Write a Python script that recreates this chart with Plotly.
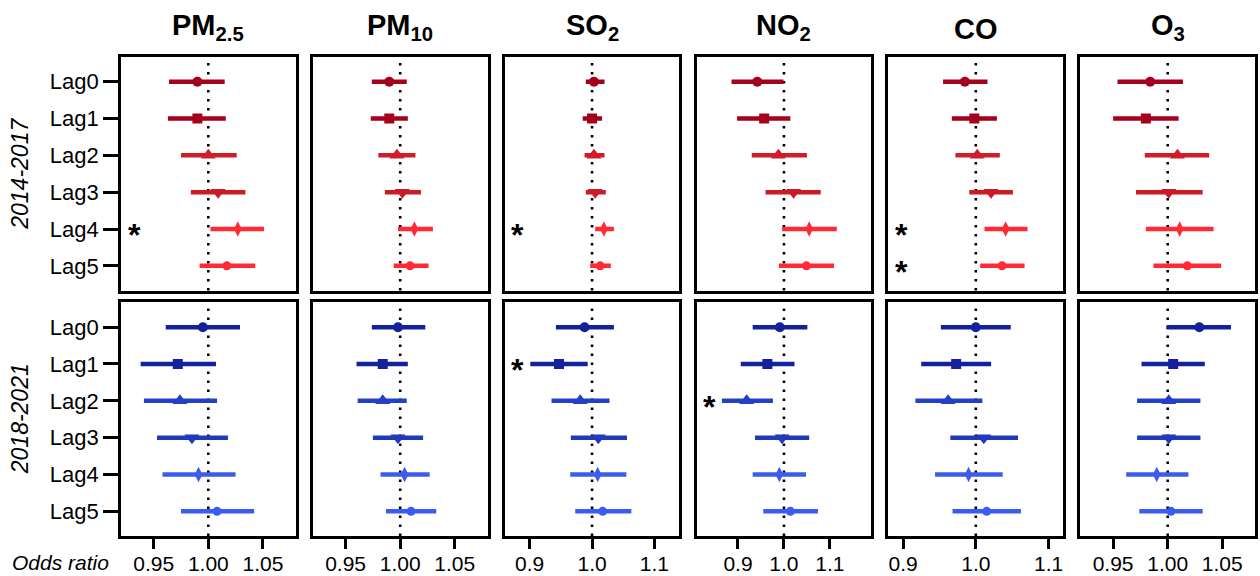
import plotly.graph_objects as go
from plotly.subplots import make_subplots

# ---------------- data ----------------
lags = ["Lag0", "Lag1", "Lag2", "Lag3", "Lag4", "Lag5"]
pollutants = ["PM<sub>2.5</sub>", "PM<sub>10</sub>", "SO<sub>2</sub>", "NO<sub>2</sub>", "CO", "O<sub>3</sub>"]
periods = ["2014-2017", "2018-2021"]

# 2014-2017 (odds ratio, lower CI, upper CI)
pm25_a_or = [0.990, 0.990, 1.000, 1.009, 1.027, 1.017]
pm25_a_lo = [0.964, 0.963, 0.975, 0.984, 1.002, 0.992]
pm25_a_hi = [1.015, 1.016, 1.026, 1.034, 1.051, 1.043]
pm10_a_or = [0.990, 0.990, 0.997, 1.002, 1.013, 1.009]
pm10_a_lo = [0.974, 0.973, 0.980, 0.986, 0.998, 0.994]
pm10_a_hi = [1.006, 1.007, 1.014, 1.019, 1.030, 1.026]
so2_a_or = [1.003, 1.000, 1.003, 1.005, 1.019, 1.013]
so2_a_lo = [0.990, 0.985, 0.988, 0.990, 1.005, 0.997]
so2_a_hi = [1.020, 1.016, 1.020, 1.022, 1.035, 1.030]
no2_a_or = [0.942, 0.957, 0.988, 1.021, 1.055, 1.049]
no2_a_lo = [0.886, 0.898, 0.930, 0.960, 0.996, 0.989]
no2_a_hi = [0.999, 1.014, 1.050, 1.080, 1.115, 1.109]
co_a_or = [0.985, 0.998, 1.002, 1.021, 1.041, 1.036]
co_a_lo = [0.955, 0.967, 0.972, 0.991, 1.012, 1.006]
co_a_hi = [1.016, 1.029, 1.033, 1.051, 1.071, 1.067]
o3_a_or = [0.984, 0.980, 1.009, 1.001, 1.011, 1.018]
o3_a_lo = [0.954, 0.950, 0.979, 0.971, 0.980, 0.987]
o3_a_hi = [1.014, 1.010, 1.038, 1.032, 1.042, 1.049]

# 2018-2021
pm25_b_or = [0.995, 0.972, 0.974, 0.985, 0.991, 1.008]
pm25_b_lo = [0.961, 0.938, 0.941, 0.953, 0.958, 0.975]
pm25_b_hi = [1.029, 1.007, 1.008, 1.018, 1.025, 1.042]
pm10_b_or = [0.998, 0.984, 0.984, 0.998, 1.004, 1.010]
pm10_b_lo = [0.974, 0.960, 0.961, 0.975, 0.982, 0.987]
pm10_b_hi = [1.023, 1.007, 1.006, 1.021, 1.027, 1.033]
so2_b_or = [0.988, 0.947, 0.981, 1.010, 1.009, 1.017]
so2_b_lo = [0.942, 0.901, 0.935, 0.966, 0.965, 0.973]
so2_b_hi = [1.035, 0.993, 1.028, 1.056, 1.055, 1.063]
no2_b_or = [0.991, 0.964, 0.919, 0.996, 0.990, 1.014]
no2_b_lo = [0.932, 0.906, 0.865, 0.937, 0.932, 0.955]
no2_b_hi = [1.051, 1.023, 0.976, 1.055, 1.048, 1.074]
co_b_or = [1.000, 0.973, 0.962, 1.011, 0.990, 1.015]
co_b_lo = [0.952, 0.925, 0.917, 0.965, 0.944, 0.968]
co_b_hi = [1.048, 1.021, 1.009, 1.058, 1.037, 1.062]
o3_b_or = [1.029, 1.005, 1.001, 1.001, 0.990, 1.003]
o3_b_lo = [0.999, 0.976, 0.972, 0.972, 0.962, 0.974]
o3_b_hi = [1.058, 1.034, 1.030, 1.030, 1.019, 1.032]

# significant lags (asterisks)
sig_a = [[4], [], [4], [], [4, 5], []]
sig_b = [[], [], [1], [2], [], []]

# axis settings per pollutant
x_ranges = [[0.92, 1.08], [0.92, 1.08], [0.86, 1.14], [0.81, 1.19], [0.88, 1.12], [0.92, 1.08]]
x_ticks = [[0.95, 1.00, 1.05], [0.95, 1.00, 1.05], [0.9, 1.0, 1.1], [0.9, 1.0, 1.1], [0.9, 1.0, 1.1], [0.95, 1.00, 1.05]]
x_tickfmt = [".2f", ".2f", ".1f", ".1f", ".1f", ".2f"]
ref_or = 1.0

rows_data = [
    [(pm25_a_or, pm25_a_lo, pm25_a_hi), (pm10_a_or, pm10_a_lo, pm10_a_hi), (so2_a_or, so2_a_lo, so2_a_hi),
     (no2_a_or, no2_a_lo, no2_a_hi), (co_a_or, co_a_lo, co_a_hi), (o3_a_or, o3_a_lo, o3_a_hi)],
    [(pm25_b_or, pm25_b_lo, pm25_b_hi), (pm10_b_or, pm10_b_lo, pm10_b_hi), (so2_b_or, so2_b_lo, so2_b_hi),
     (no2_b_or, no2_b_lo, no2_b_hi), (co_b_or, co_b_lo, co_b_hi), (o3_b_or, o3_b_lo, o3_b_hi)],
]
sigs = [sig_a, sig_b]

# ---------------- style ----------------
colors = [
    ["#A5001E", "#A5001E", "#D11C2B", "#CC1A29", "#FF2A35", "#FF2A35"],
    ["#13229C", "#13229C", "#2340C6", "#1F3ABD", "#3A5CF0", "#3A5CF0"],
]
symbols = ["circle", "square", "triangle-up", "triangle-down", "diamond-tall", "circle"]
msizes = [10, 10, 13, 13, 11, 9]
FONT = "Arial, Liberation Sans, sans-serif"

fig = make_subplots(rows=2, cols=6, horizontal_spacing=0.0152, vertical_spacing=0.025)

for r in range(2):
    for c in range(6):
        orv, lo, hi = rows_data[r][c]
        for i in range(6):
            fig.add_trace(go.Scatter(
                x=[orv[i]], y=[i], mode="markers",
                marker=dict(symbol=symbols[i], size=msizes[i], color=colors[r][i], line=dict(width=0)),
                error_x=dict(type="data", symmetric=False,
                             array=[hi[i] - orv[i]], arrayminus=[orv[i] - lo[i]],
                             color=colors[r][i], thickness=4.5, width=0),
                showlegend=False, hoverinfo="skip"),
                row=r + 1, col=c + 1)
        fig.add_vline(x=ref_or, line=dict(color="black", width=2.6, dash="2.6px,6.4px"),
                      layer="below", row=r + 1, col=c + 1)
        idx = r * 6 + c + 1
        xname = "x" if idx == 1 else f"x{idx}"
        for s in sigs[r][c]:
            fig.add_annotation(text="<b>*</b>", xref=f"{xname} domain", yref=xname.replace("x", "y"),
                               x=0.075, y=s, xanchor="center", yanchor="middle",
                               showarrow=False, yshift=-6,
                               font=dict(size=32, color="black", family=FONT))
        fig.update_xaxes(range=x_ranges[c], tickvals=x_ticks[c], tickformat=x_tickfmt[c],
                         showline=True, mirror=True, linecolor="black", linewidth=2.6,
                         showgrid=False, zeroline=False, automargin=False,
                         ticks="outside" if r == 1 else "", ticklen=10, tickwidth=2.6, tickcolor="black",
                         showticklabels=(r == 1), ticklabelstandoff=-3,
                         tickfont=dict(size=21, color="black", family=FONT),
                         row=r + 1, col=c + 1)
        fig.update_yaxes(range=[5.67, -0.67], tickvals=list(range(6)), ticktext=lags,
                         showline=True, mirror=True, linecolor="black", linewidth=2.6,
                         showgrid=False, zeroline=False, automargin=False,
                         ticks="outside" if c == 0 else "", ticklen=15, tickwidth=2.6, tickcolor="black",
                         showticklabels=(c == 0),
                         tickfont=dict(size=22, color="black", family=FONT),
                         row=r + 1, col=c + 1)

# column titles
for c in range(6):
    dom = fig.layout[f"xaxis{'' if c == 0 else c + 1}"].domain
    fig.add_annotation(text=f"<b>{pollutants[c]}</b>", xref="paper", yref="paper",
                       x=(dom[0] + dom[1]) / 2, y=1.0, xanchor="center", yanchor="bottom", yshift=10,
                       showarrow=False, font=dict(size=29, color="black", family=FONT))

# row labels
row_centers = [(0.5125 + 1) / 2, 0.4875 / 2]
for r in range(2):
    fig.add_annotation(text=f"<i>{periods[r]}</i>", xref="paper", yref="paper",
                       x=0, xshift=-101, y=row_centers[r], xanchor="center", yanchor="middle",
                       textangle=-90, showarrow=False,
                       font=dict(size=23, color="black", family=FONT))

fig.add_annotation(text="<i>Odds ratio</i>", xref="paper", yref="paper",
                   x=0, xshift=-61, y=0, yshift=-26, xanchor="center", yanchor="middle",
                   showarrow=False, font=dict(size=21, color="black", family=FONT))

fig.update_layout(width=1260, height=576, margin=dict(l=121, r=5, t=57, b=40, autoexpand=False),
                  plot_bgcolor="white", paper_bgcolor="white",
                  font=dict(family=FONT, color="black"))

fig.write_html("out.html", config={"displayModeBar": False},
               post_script="document.body.style.margin='0';")
